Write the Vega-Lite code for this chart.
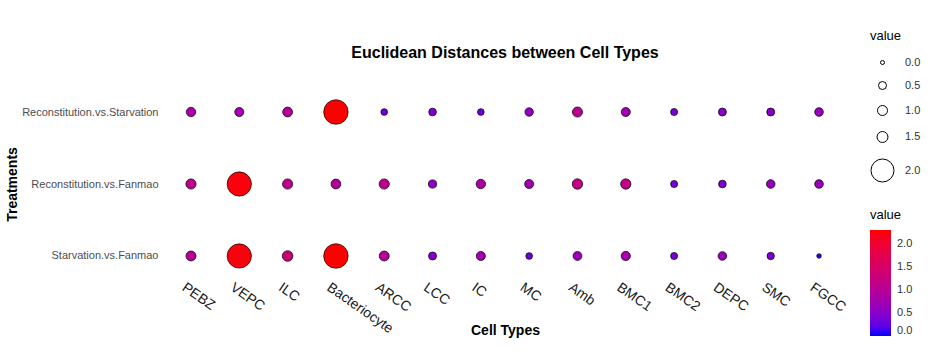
{
  "$schema": "https://vega.github.io/schema/vega-lite/v6.json",
  "autosize": {"type": "none"},
  "padding": {"left": 162, "top": 92, "right": 88, "bottom": 86},
  "width": 686,
  "height": 184,
  "background": "white",
  "title": {
    "text": "Euclidean Distances between Cell Types",
    "frame": "group",
    "anchor": "middle",
    "offset": -31,
    "font": "Liberation Sans",
    "fontSize": 16,
    "fontWeight": "bold",
    "color": "black"
  },
  "data": {
    "values": [
      {"treatment": "Reconstitution.vs.Starvation", "cell": "PEBZ", "value": 0.85},
      {"treatment": "Reconstitution.vs.Starvation", "cell": "VEPC", "value": 0.75},
      {"treatment": "Reconstitution.vs.Starvation", "cell": "ILC", "value": 0.95},
      {"treatment": "Reconstitution.vs.Starvation", "cell": "Bacteriocyte", "value": 2.3},
      {"treatment": "Reconstitution.vs.Starvation", "cell": "ARCC", "value": 0.3},
      {"treatment": "Reconstitution.vs.Starvation", "cell": "LCC", "value": 0.45},
      {"treatment": "Reconstitution.vs.Starvation", "cell": "IC", "value": 0.3},
      {"treatment": "Reconstitution.vs.Starvation", "cell": "MC", "value": 0.6},
      {"treatment": "Reconstitution.vs.Starvation", "cell": "Amb", "value": 1.05},
      {"treatment": "Reconstitution.vs.Starvation", "cell": "BMC1", "value": 0.75},
      {"treatment": "Reconstitution.vs.Starvation", "cell": "BMC2", "value": 0.35},
      {"treatment": "Reconstitution.vs.Starvation", "cell": "DEPC", "value": 0.5},
      {"treatment": "Reconstitution.vs.Starvation", "cell": "SMC", "value": 0.5},
      {"treatment": "Reconstitution.vs.Starvation", "cell": "FGCC", "value": 0.65},
      {"treatment": "Reconstitution.vs.Fanmao", "cell": "PEBZ", "value": 1.1},
      {"treatment": "Reconstitution.vs.Fanmao", "cell": "VEPC", "value": 2.25},
      {"treatment": "Reconstitution.vs.Fanmao", "cell": "ILC", "value": 1.1},
      {"treatment": "Reconstitution.vs.Fanmao", "cell": "Bacteriocyte", "value": 0.95},
      {"treatment": "Reconstitution.vs.Fanmao", "cell": "ARCC", "value": 1.1},
      {"treatment": "Reconstitution.vs.Fanmao", "cell": "LCC", "value": 0.55},
      {"treatment": "Reconstitution.vs.Fanmao", "cell": "IC", "value": 0.85},
      {"treatment": "Reconstitution.vs.Fanmao", "cell": "MC", "value": 0.75},
      {"treatment": "Reconstitution.vs.Fanmao", "cell": "Amb", "value": 1.2},
      {"treatment": "Reconstitution.vs.Fanmao", "cell": "BMC1", "value": 1.15},
      {"treatment": "Reconstitution.vs.Fanmao", "cell": "BMC2", "value": 0.35},
      {"treatment": "Reconstitution.vs.Fanmao", "cell": "DEPC", "value": 0.45},
      {"treatment": "Reconstitution.vs.Fanmao", "cell": "SMC", "value": 0.65},
      {"treatment": "Reconstitution.vs.Fanmao", "cell": "FGCC", "value": 0.65},
      {"treatment": "Starvation.vs.Fanmao", "cell": "PEBZ", "value": 1.0},
      {"treatment": "Starvation.vs.Fanmao", "cell": "VEPC", "value": 2.25},
      {"treatment": "Starvation.vs.Fanmao", "cell": "ILC", "value": 1.3},
      {"treatment": "Starvation.vs.Fanmao", "cell": "Bacteriocyte", "value": 2.3},
      {"treatment": "Starvation.vs.Fanmao", "cell": "ARCC", "value": 1.0},
      {"treatment": "Starvation.vs.Fanmao", "cell": "LCC", "value": 0.5},
      {"treatment": "Starvation.vs.Fanmao", "cell": "IC", "value": 0.75},
      {"treatment": "Starvation.vs.Fanmao", "cell": "MC", "value": 0.3},
      {"treatment": "Starvation.vs.Fanmao", "cell": "Amb", "value": 0.7},
      {"treatment": "Starvation.vs.Fanmao", "cell": "BMC1", "value": 0.8},
      {"treatment": "Starvation.vs.Fanmao", "cell": "BMC2", "value": 0.35},
      {"treatment": "Starvation.vs.Fanmao", "cell": "DEPC", "value": 0.65},
      {"treatment": "Starvation.vs.Fanmao", "cell": "SMC", "value": 0.4},
      {"treatment": "Starvation.vs.Fanmao", "cell": "FGCC", "value": 0.05}
    ]
  },
  "mark": {"type": "point", "shape": "circle", "filled": true, "stroke": "black", "strokeOpacity": 0.7, "strokeWidth": 1, "fillOpacity": 1, "opacity": 1},
  "encoding": {
    "x": {
      "field": "cell",
      "type": "nominal",
      "sort": ["PEBZ", "VEPC", "ILC", "Bacteriocyte", "ARCC", "LCC", "IC", "MC", "Amb", "BMC1", "BMC2", "DEPC", "SMC", "FGCC"],
      "scale": {"type": "point", "padding": 0.6},
      "axis": {
        "title": "Cell Types",
        "titleFont": "Liberation Sans",
        "titleFontSize": 14,
        "titleFontWeight": "bold",
        "titleColor": "black",
        "titleBaseline": "middle",
        "titleY": 54,
        "labelFont": "Liberation Sans",
        "labelFontSize": 14,
        "labelColor": "#1a1a1a",
        "labelAngle": 35,
        "labelAlign": "left",
        "labelBaseline": "top",
        "labelOffset": -4,
        "labelPadding": 4,
        "ticks": false,
        "domain": false,
        "grid": false
      }
    },
    "y": {
      "field": "treatment",
      "type": "nominal",
      "sort": ["Reconstitution.vs.Starvation", "Reconstitution.vs.Fanmao", "Starvation.vs.Fanmao"],
      "scale": {"type": "point", "padding": 0.278},
      "axis": {
        "title": "Treatments",
        "titleFont": "Liberation Sans",
        "titleFontSize": 14,
        "titleFontWeight": "bold",
        "titleColor": "black",
        "titleX": -150,
        "titleY": 92,
        "titleAngle": -90,
        "titleBaseline": "middle",
        "titleAlign": "center",
        "labelFont": "Liberation Sans",
        "labelFontSize": 11,
        "labelColor": "#4d4d4d",
        "labelPadding": 4,
        "ticks": false,
        "domain": false,
        "grid": false
      }
    },
    "fill": {
      "field": "value",
      "type": "quantitative",
      "scale": {"domain": [0, 2.3], "range": ["#0000FF", "#FF0000"], "interpolate": "lab"},
      "legend": {
        "title": "value",
        "orient": "none",
        "legendX": 708,
        "legendY": 117,
        "direction": "vertical",
        "gradientLength": 106,
        "gradientThickness": 21,
        "values": [0, 0.5, 1, 1.5, 2],
        "format": ".1f",
        "titleFont": "Liberation Sans",
        "titleFontSize": 13,
        "titleFontWeight": "normal",
        "titleColor": "black",
        "titlePadding": 8,
        "labelFont": "Liberation Sans",
        "labelFontSize": 11,
        "labelColor": "#333333",
        "labelOffset": 6
      }
    },
    "size": {
      "field": "value",
      "type": "quantitative",
      "scale": {"domain": [0, 0.5, 1, 1.5, 2, 2.3], "range": [16, 64, 100, 120, 530, 600]},
      "legend": {
        "title": "value",
        "orient": "none",
        "legendX": 708,
        "legendY": -62,
        "values": [0, 0.5, 1, 1.5, 2],
        "format": ".1f",
        "symbolType": "circle",
        "symbolFillColor": "transparent",
        "symbolStrokeColor": "black",
        "symbolStrokeWidth": 1,
        "titleFont": "Liberation Sans",
        "titleFontSize": 13,
        "titleFontWeight": "normal",
        "titleColor": "black",
        "titlePadding": 14,
        "labelFont": "Liberation Sans",
        "labelFontSize": 11,
        "labelColor": "#333333",
        "labelOffset": 10,
        "rowPadding": 11
      }
    }
  },
  "config": {"view": {"stroke": null}}
}
